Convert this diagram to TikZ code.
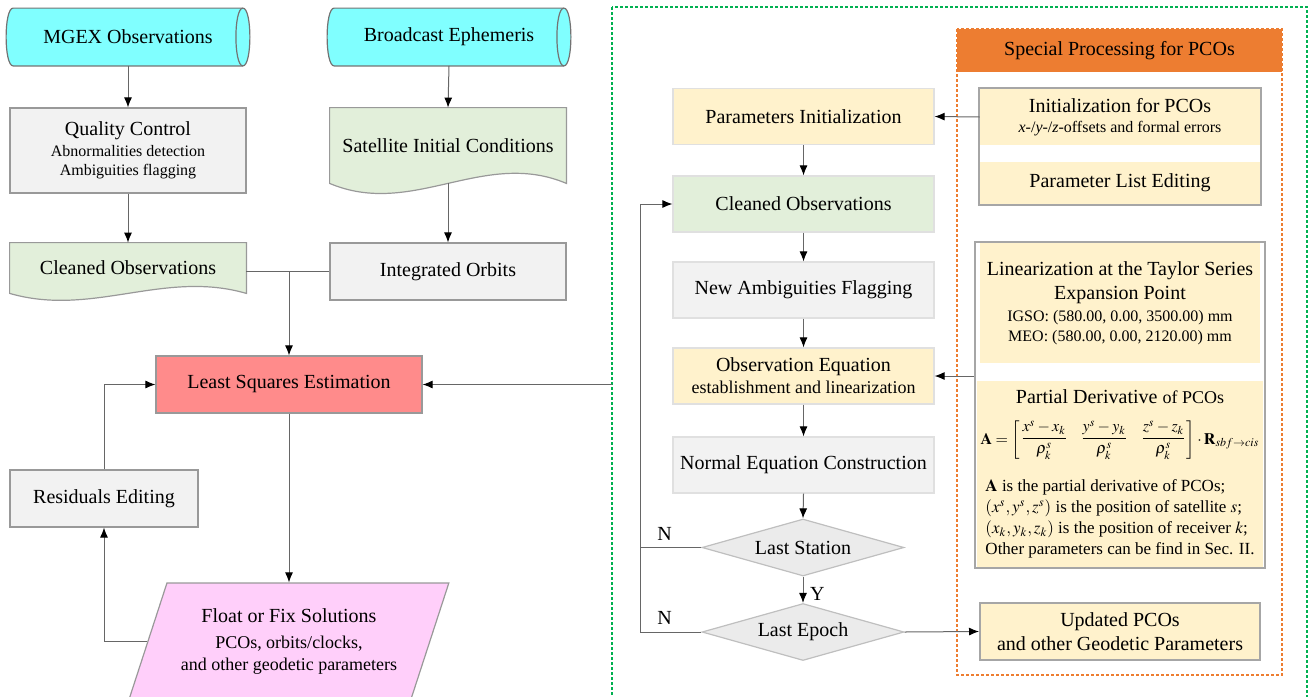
\documentclass[tikz,border=0pt]{standalone}
\usepackage{amsmath}
\usepackage{mathptmx}
\usepackage{fontspec}
\setmainfont{Liberation Serif}
\usetikzlibrary{calc,shapes.geometric,arrows.meta,fit}
\pgfdeclarelayer{bg}
\pgfsetlayers{bg,main}
\definecolor{cylcyan}{RGB}{128,255,255}
\definecolor{boxgray}{RGB}{242,242,242}
\definecolor{docgreen}{RGB}{226,239,218}
\definecolor{lsered}{RGB}{255,139,139}
\definecolor{solpink}{RGB}{255,207,250}
\definecolor{pcoyellow}{RGB}{255,242,204}
\definecolor{hdrorange}{RGB}{237,125,49}
\definecolor{framegreen}{RGB}{0,176,80}
\def\wavedoc#1#2{\begin{pgfonlayer}{bg}\draw[docshape] (#1.north west) -- (#1.north east) -- (#1.south east) .. controls ($(#1.south west)!0.65!(#1.south east)+(0,-#2)$) and ($(#1.south west)!0.35!(#1.south east)+(0,#2)$) .. (#1.south west) -- cycle;\end{pgfonlayer}}
\def\storedata#1{\begin{pgfonlayer}{bg}\draw[cylshape] ($(#1.north west)+(7,0)$) -- ($(#1.north east)+(-7,0)$) .. controls +(9.33,0) and +(9.33,0) .. ($(#1.south east)+(-7,0)$) -- ($(#1.south west)+(7,0)$) .. controls +(-9.33,0) and +(-9.33,0) .. ($(#1.north west)+(7,0)$) -- cycle;
\draw[cylshape, fill=none] ($(#1.north east)+(-7,0)$) .. controls +(-9.33,0) and +(-9.33,0) .. ($(#1.south east)+(-7,0)$);\end{pgfonlayer}}

\begin{document}
\begin{tikzpicture}[x=0.5pt, y=-0.5pt,
	base/.style={rectangle, align=center, inner sep=2pt, font=\fontsize{10}{12}\selectfont},
	graybox/.style={base, draw=black!40, fill=boxgray, line width=0.6pt},
	docshape/.style={fill=docgreen, draw=black!40, line width=0.6pt},
	cylshape/.style={fill=cylcyan, draw=black!55, line width=0.6pt},
	colbox/.style={base, draw=black!12, line width=0.6pt, minimum width=130.5pt, minimum height=28pt},
	pbox/.style={base, fill=pcoyellow, minimum width=140pt},
	grp/.style={draw=black!35, line width=1pt, fill=white, inner sep=0.5pt},
	decide/.style={diamond, aspect=3.5, draw=black!25, fill=black!8, line width=0.6pt, inner sep=0pt, minimum width=101pt, minimum height=28.5pt, font=\fontsize{10}{12}\selectfont},
	lbl/.style={font=\fontsize{10}{12}\selectfont},
	conn/.style={draw=black!60, line width=0.5pt},
	arr/.style={conn, -{Latex[length=5pt, width=4pt, color=black]}}]
	%%%%% START %%%%%
	\useasboundingbox (0,0) rectangle (1310,696);
	\clip (0,0) rectangle (1310,696);
	
	\draw[framegreen, line width=0.7pt, dash pattern=on 1.5pt off 1pt] (612,7) rectangle (1307,710);
	\draw[hdrorange, line width=0.7pt, dash pattern=on 1.5pt off 1pt] (957,29) rectangle (1282,675);
	\node[base, fill=hdrorange, minimum width=162.5pt, minimum height=21.5pt] (hdr) at (1119.5,50.5) {Special Processing for PCOs};
	
	\node[base, minimum width=121.5pt, minimum height=28.5pt] (mgex) at (128,37) {MGEX Observations};
	\storedata{mgex}
	\node[base, minimum width=121.5pt, minimum height=28.5pt] (bcast) at (449,37) {Broadcast Ephemeris};
	\storedata{bcast}
	
	\node[graybox, minimum width=118pt, minimum height=42.5pt] (qc) at (128,150.5) {Quality Control\\[-1.5pt]{\footnotesize Abnormalities detection}\\[-2.5pt]{\footnotesize Ambiguities flagging}};
	\node[base, minimum width=118pt, minimum height=37.5pt] (sic) at (448,145.5) {Satellite Initial Conditions};
	\wavedoc{sic}{35}
	\node[base, minimum width=118pt, minimum height=25pt] (clean) at (128,268) {Cleaned Observations};
	\wavedoc{clean}{24}
	\node[graybox, minimum width=118pt, minimum height=28.5pt] (orbit) at (448,271.5) {Integrated Orbits};
	
	\node[base, draw=black!40, fill=lsered, line width=0.6pt, minimum width=133pt, minimum height=28.5pt] (lse) at (289,384.5) {Least Squares Estimation};
	\node[graybox, minimum width=94pt, minimum height=28.5pt] (resid) at (104,498.5) {Residuals Editing};
	\node[trapezium, trapezium left angle=63, trapezium right angle=117, trapezium stretches=true, draw=black!40, fill=solpink, line width=0.6pt, minimum width=160pt, minimum height=58pt, align=center, inner sep=0pt, font=\fontsize{10}{12}\selectfont] (float) at (289,641) {Float or Fix Solutions\\[1pt]{\small PCOs, orbits/clocks,}\\[-1pt]{\small and other geodetic parameters}};
	
	\node[colbox, fill=pcoyellow] (parinit) at (803.5,116.5) {Parameters Initialization};
	\node[colbox, fill=docgreen] (cobs) at (803.5,204) {Cleaned Observations};
	\node[colbox, fill=boxgray] (newamb) at (803.5,290) {New Ambiguities Flagging};
	\node[colbox, fill=pcoyellow] (obseq) at (803.5,376) {Observation Equation\\[-1pt]{\small establishment and linearization}};
	\node[colbox, fill=boxgray] (normeq) at (803.5,465) {Normal Equation Construction};
	\node[decide] (laststa) at (803,547.5) {Last Station};
	\node[decide] (lastep) at (803,632) {Last Epoch};
	
	\node[pbox, minimum height=28pt] (initpco) at (1120,117) {Initialization for PCOs\\[-2pt]{\footnotesize\textit{x}-/\textit{y}-/\textit{z}-offsets and formal errors}};
	\node[pbox, minimum height=21pt] (parlist) at (1120,183) {Parameter List Editing};
	\node[pbox, minimum height=60pt] (lin) at (1120,303) {Linearization at the Taylor Series\\Expansion Point\\[-1pt]{\footnotesize IGSO: (580.00, 0.00, 3500.00) mm}\\[-2pt]{\footnotesize MEO: (580.00, 0.00, 2120.00) mm}};
	\node[pbox, minimum height=93pt] (pd) at (1120,474) {\begin{tabular}{@{}c@{}}
		Partial Derivative {\small of PCOs}\\[5pt]
		{\fontsize{8}{10}\selectfont\setlength{\arraycolsep}{3pt}$\mathbf{A}=\left[\begin{matrix}\dfrac{x^s-x_k}{\rho_k^s} & \dfrac{y^s-y_k}{\rho_k^s} & \dfrac{z^s-z_k}{\rho_k^s}\end{matrix}\right]\cdot\mathbf{R}_{sbf\rightarrow cis}$}\\[13pt]
		{\fontsize{8.5}{10.5}\selectfont\begin{tabular}{@{}l@{}}$\mathbf{A}$ is the partial derivative of PCOs;\\$(x^s, y^s, z^s)$ is the position of satellite $s$;\\$(x_k, y_k, z_k)$ is the position of receiver $k$;\\Other parameters can be find in Sec. II.\end{tabular}}
	\end{tabular}};
	\node[pbox, draw=black!35, line width=1pt, minimum height=28.5pt] (upd) at (1120,631.5) {Updated PCOs\\and other Geodetic Parameters};
	\begin{pgfonlayer}{bg}
		\node[grp, fit=(initpco)(parlist)] (grpA) {};
		\node[grp, fit=(lin)(pd)] (grpB) {};
	\end{pgfonlayer}
	
	\draw[arr] (mgex.south) -- (qc.north);
	\draw[arr] (qc.south) -- (clean.north);
	\draw[arr] (bcast.south) -- (sic.north);
	\draw[arr] (sic.south) -- (orbit.north);
	\draw[conn] (orbit.west -| clean.east) -- (orbit.west);
	\coordinate (join) at (lse.north |- orbit.west);
	\draw[arr] (join) -- (lse.north);
	\draw[arr] (lse.south) -- (lse.south |- float.north);
	\draw[arr] (float.west) -| (resid.south);
	\draw[arr] (resid.north) |- (lse.west);
	\coordinate (gleft) at (612,384.5);
	\draw[arr] (gleft) -- (lse.east);
	
	\draw[arr] (parinit.south) -- (cobs.north);
	\draw[arr] (cobs.south) -- (newamb.north);
	\draw[arr] (newamb.south) -- (obseq.north);
	\draw[arr] (obseq.south) -- (normeq.north);
	\draw[arr] (normeq.south) -- (laststa.north);
	\draw[arr] (laststa.south) -- node[lbl, right, pos=0.65] {Y} (lastep.north);
	\coordinate (loopx) at (640,0);
	\draw[arr] (laststa.west) -- node[lbl, above, pos=0.6] {N} (laststa.west -| loopx) |- (cobs.west);
	\draw[conn] (lastep.west) -- node[lbl, above, pos=0.6] {N} (lastep.west -| loopx) -- (laststa.west -| loopx);
	\draw[arr] (initpco.west) -- (parinit.east);
	\draw[arr] (grpB.west |- obseq.east) -- (obseq.east);
	\draw[arr] (lastep.east) -- (upd.west);
	
	%%%%% END %%%%%
\end{tikzpicture}
\end{document}
